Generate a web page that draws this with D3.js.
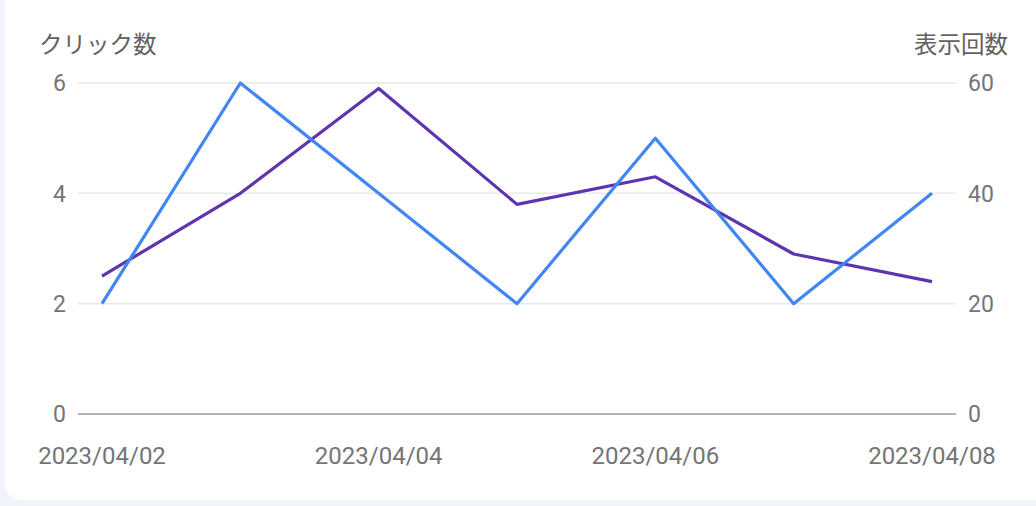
<!DOCTYPE html>
<html><head><meta charset="utf-8">
<script src="https://cdn.jsdelivr.net/npm/d3@7"></script>
<style>
html,body{margin:0;padding:0;background:#f1f4fa;}
svg{display:block;}
</style></head>
<body><svg id="c" width="1036" height="506"></svg>
<script>
const dates = ["2023/04/02","2023/04/03","2023/04/04","2023/04/05","2023/04/06","2023/04/07","2023/04/08"];
const clicks = [2, 6, 4, 2, 5, 2, 4];
const impressions = [25, 40, 59, 38, 43, 29, 24];
const leftTicks = [0, 2, 4, 6];
const rightTicks = [0, 20, 40, 60];
const xTickLabels = ["2023/04/02","2023/04/04","2023/04/06","2023/04/08"];

(function(){
const svg = d3.select("#c");
svg.append("rect").attr("x",5).attr("y",-20).attr("width",1060).attr("height",520).attr("rx",16).attr("fill","#fff");

const plotL = 78, plotR = 956, plotTop = 83, plotBottom = 414;
const x = d3.scalePoint().domain(dates).range([102, 932]);
const yL = d3.scaleLinear().domain([0,6]).range([plotBottom, plotTop]);
const yR = d3.scaleLinear().domain([0,60]).range([plotBottom, plotTop]);
const font = "Roboto, 'Noto Sans CJK JP', sans-serif";

svg.append("g").selectAll("line").data(leftTicks.filter(d=>d>0)).join("line")
  .attr("x1",plotL).attr("x2",plotR).attr("y1",d=>yL(d)).attr("y2",d=>yL(d))
  .attr("stroke","#e9e9e9").attr("stroke-width",1.5);
svg.append("line").attr("x1",plotL).attr("x2",plotR).attr("y1",yL(0)).attr("y2",yL(0))
  .attr("stroke","#9a9a9a").attr("stroke-width",1.5);

svg.append("g").selectAll("text").data(leftTicks).join("text")
  .attr("x",66).attr("y",d=>yL(d)).attr("dy","0.36em").attr("text-anchor","end")
  .attr("font-family",font).attr("font-size",23).attr("fill","#757575").text(d=>d);
svg.append("g").selectAll("text").data(rightTicks).join("text")
  .attr("x",968).attr("y",d=>yR(d)).attr("dy","0.36em").attr("text-anchor","start")
  .attr("font-family",font).attr("font-size",23).attr("fill","#757575").text(d=>d);

svg.append("text").attr("x",39).attr("y",53).attr("font-family",font).attr("font-size",23.5)
  .attr("fill","#616161").text("クリック数");
svg.append("text").attr("x",1008).attr("y",53).attr("text-anchor","end").attr("font-family",font).attr("font-size",23.5)
  .attr("fill","#616161").text("表示回数");

svg.append("g").selectAll("text").data(xTickLabels).join("text")
  .attr("x",d=>x(d)).attr("y",464).attr("text-anchor","middle")
  .attr("font-family",font).attr("font-size",24).attr("fill","#757575").text(d=>d);

const lineL = d3.line().x((d,i)=>x(dates[i])).y(d=>yL(d));
const lineR = d3.line().x((d,i)=>x(dates[i])).y(d=>yR(d));
svg.append("path").attr("d",lineR(impressions)).attr("fill","none").attr("stroke","#5e35b1").attr("stroke-width",3.2).attr("stroke-linejoin","round");
svg.append("path").attr("d",lineL(clicks)).attr("fill","none").attr("stroke","#4285f4").attr("stroke-width",3.2).attr("stroke-linejoin","round");
})();
</script></body></html>
